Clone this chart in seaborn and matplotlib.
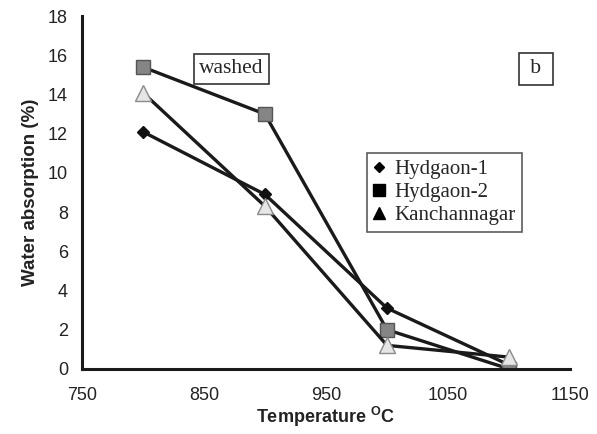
import matplotlib
matplotlib.use("Agg")
import matplotlib.pyplot as plt
import seaborn as sns
import pandas as pd
from matplotlib.lines import Line2D

temperature = [800, 900, 1000, 1100]
hydgaon1 = [12.1, 8.9, 3.1, 0.2]
hydgaon2 = [15.4, 13.0, 2.0, 0.0]
kanchannagar = [14.1, 8.3, 1.2, 0.6]
series_names = ["Hydgaon-1", "Hydgaon-2", "Kanchannagar"]
x_ticks = [750, 850, 950, 1050, 1150]
y_ticks = [0, 2, 4, 6, 8, 10, 12, 14, 16, 18]

df = pd.DataFrame({
    "T": temperature * 3,
    "W": hydgaon1 + hydgaon2 + kanchannagar,
    "S": [series_names[0]] * 4 + [series_names[1]] * 4 + [series_names[2]] * 4,
})

sns.set_style("white")
plt.rcParams['font.family'] = ['Liberation Sans', 'DejaVu Sans']

fig = plt.figure(figsize=(5.97, 4.34), dpi=100)
ax = fig.add_axes([0.137, 0.150, 0.818, 0.813])

styles = {
    "Hydgaon-1": dict(marker="D", markersize=6.5, markerfacecolor="#111111", markeredgecolor="#111111"),
    "Hydgaon-2": dict(marker="s", markersize=10, markerfacecolor="#858585", markeredgecolor="#555555"),
    "Kanchannagar": dict(marker="^", markersize=11, markerfacecolor="#e6e6e6", markeredgecolor="#8a8a8a"),
}
for name in series_names:
    sub = df[df["S"] == name]
    sns.lineplot(data=sub, x="T", y="W", ax=ax, color="#1a1a1a", linewidth=2.4,
                 markeredgewidth=1.0, legend=False, **styles[name])

ax.set_xlim(750, 1150)
ax.set_ylim(0, 18)
ax.set_xticks(x_ticks)
ax.set_yticks(y_ticks)
ax.tick_params(axis="both", labelsize=13, colors="#222222", direction="out", length=4, width=2)
ax.tick_params(axis="x", pad=9)
ax.tick_params(axis="y", pad=6)
for s in ["top", "right"]:
    ax.spines[s].set_visible(False)
for s in ["left", "bottom"]:
    ax.spines[s].set_linewidth(2.2)
    ax.spines[s].set_color("#1a1a1a")

ax.set_xlabel("Temperature $^{\\mathregular{O}}$C", fontsize=13, fontweight="bold", color="#222222", labelpad=1)
ax.set_ylabel("Water absorption (%)", fontsize=13.5, fontweight="bold", color="#222222", labelpad=6)

box = dict(boxstyle="square,pad=0.25", facecolor="white", edgecolor="#333333", linewidth=1.2)
ax.text(0.3065, 0.85, "washed", transform=ax.transAxes, fontsize=15.5, family="Liberation Serif",
        ha="center", va="center", bbox=box)
box_b = dict(boxstyle="square,pad=0.3", facecolor="white", edgecolor="#333333", linewidth=1.2)
ax.text(0.93, 0.85, " b ", transform=ax.transAxes, fontsize=15.5, family="Liberation Serif",
        ha="center", va="center", bbox=box_b)

handles = [
    Line2D([], [], linestyle="none", marker="D", markersize=5, color="black"),
    Line2D([], [], linestyle="none", marker="s", markersize=8, color="black"),
    Line2D([], [], linestyle="none", marker="^", markersize=8, color="black"),
]
leg = ax.legend(handles, series_names, loc="upper left", bbox_to_anchor=(0.584, 0.612),
                prop={"family": "Liberation Serif", "size": 15}, frameon=True, fancybox=False,
                handlelength=0.6, handletextpad=0.4, borderpad=0.3, labelspacing=0.18,
                borderaxespad=0)
leg.get_frame().set_edgecolor("#333333")
leg.get_frame().set_linewidth(1.2)

fig.savefig("out.png", dpi=100)
